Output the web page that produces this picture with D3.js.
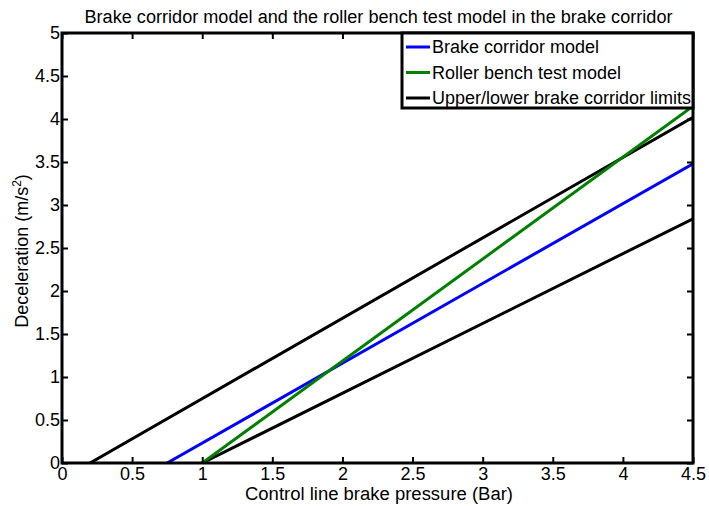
<!DOCTYPE html>
<html>
<head>
<meta charset="utf-8">
<script src="https://cdn.jsdelivr.net/npm/d3@7"></script>
<style>
  body { margin: 0; background: #fff; }
  svg text { font-family: "Liberation Sans", Arial, sans-serif; }
</style>
</head>
<body>
<svg width="709" height="506"></svg>
<script>
  // values
  var xTicks = [0, 0.5, 1, 1.5, 2, 2.5, 3, 3.5, 4, 4.5];
  var yTicks = [0, 0.5, 1, 1.5, 2, 2.5, 3, 3.5, 4, 4.5, 5];

  var upperP = [0.2, 4.5],  upperD = [0, 4.02];
  var lowerP = [1.0, 4.5],  lowerD = [0, 2.84];
  var modelP = [0.75, 4.5], modelD = [0, 3.48];
  var benchP = [1.0, 4.5],  benchD = [0, 4.15];

  var seriesNames = ["Brake corridor model", "Roller bench test model", "Upper/lower brake corridor limits"];
  var seriesColors = ["#0000ff", "#008000", "#000000"];

  var svg = d3.select("svg"),
      m = { left: 62, right: 693, top: 33, bottom: 463 };

  var x = d3.scaleLinear().domain([0, 4.5]).range([m.left, m.right]);
  var y = d3.scaleLinear().domain([0, 5]).range([m.bottom, m.top]);

  function pts(px, py) { return px.map(function (v, i) { return [v, py[i]]; }); }

  var lines = [
    { c: seriesColors[2], d: pts(upperP, upperD) },
    { c: seriesColors[2], d: pts(lowerP, lowerD) },
    { c: seriesColors[0], d: pts(modelP, modelD) },
    { c: seriesColors[1], d: pts(benchP, benchD) }
  ];

  var line = d3.line()
      .x(function (d) { return x(d[0]); })
      .y(function (d) { return y(d[1]); });

  svg.append("clipPath").attr("id", "clip")
    .append("rect")
      .attr("x", m.left).attr("y", m.top)
      .attr("width", m.right - m.left).attr("height", m.bottom - m.top);

  svg.append("g")
      .attr("clip-path", "url(#clip)")
    .selectAll("path")
    .data(lines)
    .enter().append("path")
      .attr("d", function (d) { return line(d.d); })
      .attr("fill", "none")
      .attr("stroke", function (d) { return d.c; })
      .attr("stroke-width", 3);

  // axes, ticks inward on all four sides
  function axisStyle(g) {
    g.attr("font-family", null).attr("font-size", null);
    g.select(".domain").remove();
    g.selectAll(".tick line").attr("stroke", "#000").attr("stroke-width", 2);
    g.selectAll(".tick text").attr("fill", "#000").style("font-size", "18px");
  }

  svg.append("g")
      .attr("transform", "translate(0," + m.bottom + ")")
      .call(d3.axisBottom(x).tickValues(xTicks).tickSize(-6).tickPadding(4).tickFormat(d3.format("")))
      .call(axisStyle);

  svg.append("g")
      .attr("transform", "translate(0," + m.top + ")")
      .call(d3.axisTop(x).tickValues(xTicks).tickSize(-6).tickFormat(""))
      .call(axisStyle);

  svg.append("g")
      .attr("transform", "translate(" + m.left + ",0)")
      .call(d3.axisLeft(y).tickValues(yTicks).tickSize(-6).tickPadding(2).tickFormat(d3.format("")))
      .call(axisStyle);

  svg.append("g")
      .attr("transform", "translate(" + m.right + ",0)")
      .call(d3.axisRight(y).tickValues(yTicks).tickSize(-6).tickFormat(""))
      .call(axisStyle);

  svg.append("rect")
      .attr("x", m.left).attr("y", m.top)
      .attr("width", m.right - m.left).attr("height", m.bottom - m.top)
      .attr("fill", "none").attr("stroke", "#000").attr("stroke-width", 3);

  // texts
  svg.append("text")
      .attr("x", (m.left + m.right) / 2 + 1).attr("y", 23)
      .attr("text-anchor", "middle")
      .attr("textLength", 588).attr("lengthAdjust", "spacingAndGlyphs")
      .style("font-size", "18px")
      .text("Brake corridor model and the roller bench test model in the brake corridor");

  svg.append("text")
      .attr("x", 379).attr("y", 500)
      .attr("text-anchor", "middle")
      .attr("textLength", 268).attr("lengthAdjust", "spacingAndGlyphs")
      .style("font-size", "18px")
      .text("Control line brake pressure (Bar)");

  var yl = svg.append("text")
      .attr("transform", "translate(28,251) rotate(-90)")
      .attr("text-anchor", "middle")
      .style("font-size", "18px");
  yl.append("tspan").text("Deceleration (m/s");
  yl.append("tspan").attr("dy", -7).style("font-size", "12px").text("2");
  yl.append("tspan").attr("dy", 7).text(")");

  // legend
  var lg = svg.append("g");
  lg.append("rect")
      .attr("x", 402).attr("y", m.top)
      .attr("width", m.right - 402).attr("height", 75)
      .attr("fill", "#fff").attr("stroke", "#000").attr("stroke-width", 3);

  var row = lg.selectAll("g.row")
    .data(seriesNames)
    .enter().append("g")
      .attr("class", "row")
      .attr("transform", function (d, i) { return "translate(406," + (47 + i * 25.5) + ")"; });

  row.append("line")
      .attr("x1", 0).attr("x2", 24)
      .attr("stroke", function (d, i) { return seriesColors[i]; })
      .attr("stroke-width", 3);

  row.append("text")
      .attr("x", 26).attr("y", 6)
      .style("font-size", "18px")
      .text(function (d) { return d; });
</script>
</body>
</html>
